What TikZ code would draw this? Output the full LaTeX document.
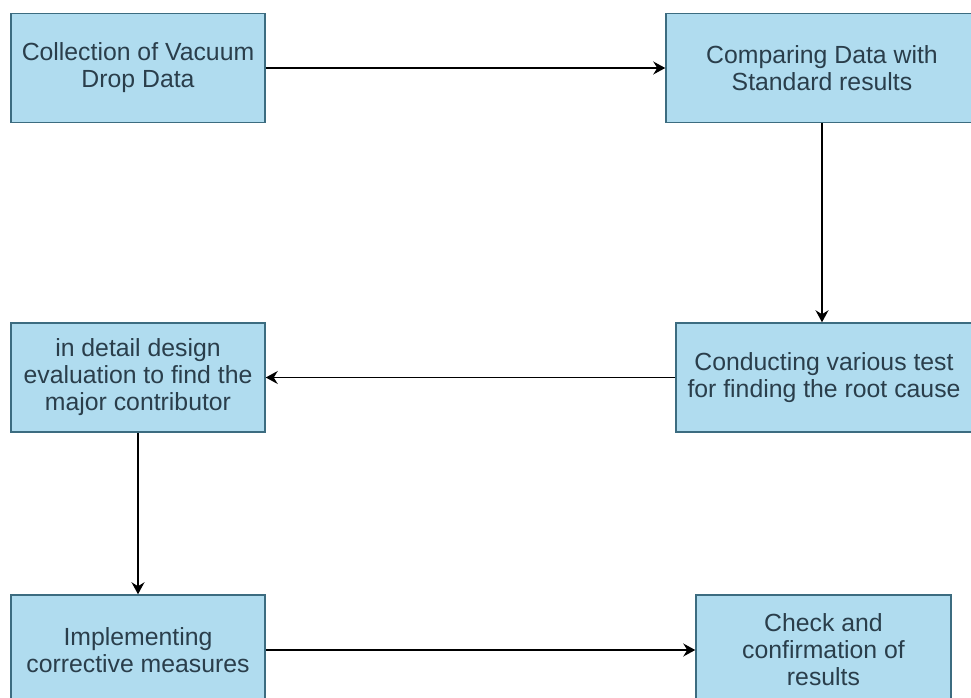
\documentclass[tikz,border=0pt]{standalone}
\usepackage{fontspec}
\setmainfont{Liberation Sans}
\usetikzlibrary{arrows.meta}

\definecolor{caixa}{HTML}{B0DCEF}
\definecolor{borda}{HTML}{3C6C80}
\definecolor{texto}{HTML}{2A3E4B}

\def\altcaixa{109}
\def\largcaixa{254}

\tikzset{
  etapa/.style={draw=borda, line width=1.5pt, fill=caixa, text=texto,
    align=center, minimum height=\altcaixa pt, inner sep=0pt,
    font=\fontsize{24.8}{27}\selectfont},
  seta/.style={line width=1.4pt, -{Stealth[length=12pt,width=13pt,inset=4pt]}}
}

\begin{document}
\begin{tikzpicture}[x=1pt, y=-1pt]
\useasboundingbox (0,0) rectangle (971,698);

%etapas
    \node[etapa, minimum width=\largcaixa pt] (coleta) at (138,68)
        {Collection of Vacuum\\Drop Data};
    \node[etapa, minimum width=312pt] (compara) at (822,68)
        {Comparing Data with\\Standard results};
    \node[etapa, minimum width=296pt] (testes) at (824,377.5)
        {Conducting various test\\for finding the root cause};
    \node[etapa, minimum width=\largcaixa pt] (projeto) at (138,377.5)
        {in detail design\\evaluation to find the\\major contributor};
    \node[etapa, minimum width=\largcaixa pt, minimum height=110pt] (medidas) at (138,650)
        {Implementing\\corrective measures};
    \node[etapa, minimum width=255pt, minimum height=110pt] (confirma) at (823.5,650)
        {Check and\\confirmation of\\results};

%setas
    \draw[seta] (coleta.east) -- (compara.west);
    \draw[seta] (compara.south) -- (compara.south |- testes.north);
    \draw[seta] (testes.west) -- (projeto.east);
    \draw[seta] (projeto.south) -- (medidas.north);
    \draw[seta] (medidas.east) -- (confirma.west);

\end{tikzpicture}
\end{document}
